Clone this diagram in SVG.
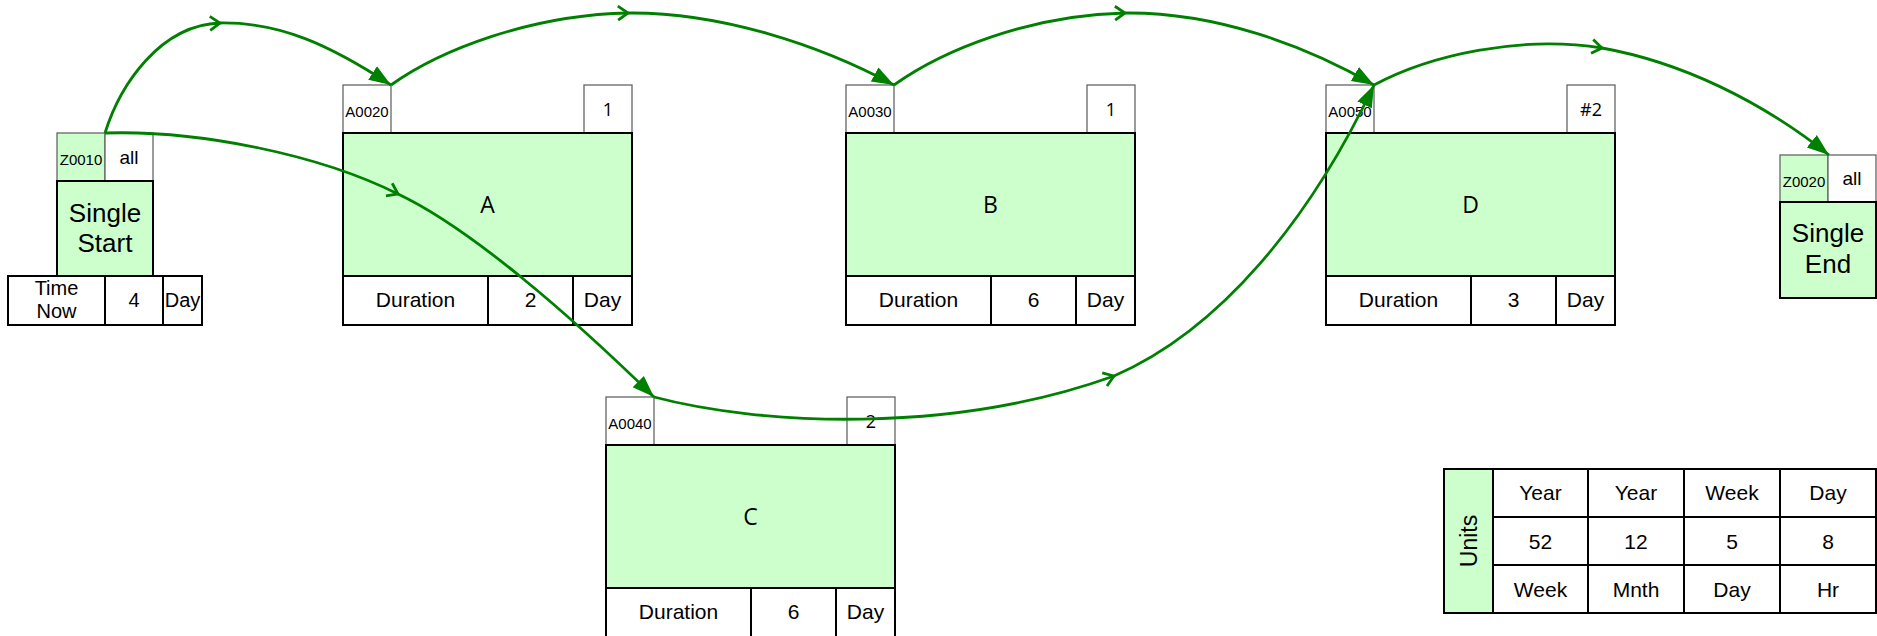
<svg xmlns="http://www.w3.org/2000/svg" width="1877" height="636" viewBox="0 0 1877 636">
<style>
.hb{fill:#fff;stroke:#666;stroke-width:1.3}
.hg{fill:#ccffcc;stroke:#666;stroke-width:1.3}
.main{fill:#ccffcc;stroke:#000;stroke-width:2}
.row{fill:#fff;stroke:#000;stroke-width:2}
.dv{stroke:#000;stroke-width:2}
.t{font-family:"Liberation Sans",Arial,sans-serif;fill:#000;text-anchor:middle}
.id{font-size:15px}
.lbl{font-size:21px}
.sm{font-size:20px}
.al{font-size:19px}
.nm{font-size:26px}
.o{font-family:"Open Sans",sans-serif;fill:#000;text-anchor:middle}
.big{font-size:23px}
.hd{font-size:18px}
.cn{fill:none;stroke:#008000;stroke-width:2.8}
</style>
<defs>
<marker id="tri" markerUnits="userSpaceOnUse" markerWidth="24" markerHeight="18" refX="22" refY="9" orient="auto">
<path d="M0,1 L22,9 L0,17 z" fill="#008000"/>
</marker>
<marker id="chev" markerUnits="userSpaceOnUse" markerWidth="16" markerHeight="18" refX="12" refY="9" orient="auto">
<path d="M2,2 L12,9 L2,16" fill="none" stroke="#008000" stroke-width="2.8"/>
</marker>
</defs>
<rect x="0" y="0" width="1877" height="636" fill="#fff"/>

<g id="node-Z0010">
<rect class="hg" x="57" y="133" width="48" height="48"/>
<rect class="hb" x="105" y="133" width="48" height="48"/>
<rect class="main" x="57" y="181" width="96" height="95"/>
<rect class="row" x="8" y="276" width="194" height="49"/>
<line class="dv" x1="105" y1="276" x2="105" y2="325"/>
<line class="dv" x1="163" y1="276" x2="163" y2="325"/>
<text class="t id" x="81" y="165">Z0010</text>
<text class="t al" x="129" y="164">all</text>
<text class="t nm" x="105" y="222">Single</text>
<text class="t nm" x="105" y="252">Start</text>
<text class="t sm" x="56.5" y="295">Time</text>
<text class="t sm" x="56.5" y="318">Now</text>
<text class="t sm" x="134" y="307">4</text>
<text class="t sm" x="182.5" y="307">Day</text>
</g>

<g id="node-A0020" transform="translate(343,85)">
<rect class="hb" x="0" y="0" width="48" height="48"/>
<rect class="hb" x="241" y="0" width="48" height="48"/>
<rect class="main" x="0" y="48" width="289" height="143"/>
<rect class="row" x="0" y="191" width="289" height="49"/>
<line class="dv" x1="145" y1="191" x2="145" y2="240"/>
<line class="dv" x1="230" y1="191" x2="230" y2="240"/>
<text class="t id" x="24" y="32">A0020</text>
<text class="o hd" x="265" y="31">1</text>
<text class="o big" x="144.5" y="128">A</text>
<text class="t lbl" x="72.5" y="222">Duration</text>
<text class="t lbl" x="187.5" y="222">2</text>
<text class="t lbl" x="259.5" y="222">Day</text>
</g>

<g id="node-A0030" transform="translate(846,85)">
<rect class="hb" x="0" y="0" width="48" height="48"/>
<rect class="hb" x="241" y="0" width="48" height="48"/>
<rect class="main" x="0" y="48" width="289" height="143"/>
<rect class="row" x="0" y="191" width="289" height="49"/>
<line class="dv" x1="145" y1="191" x2="145" y2="240"/>
<line class="dv" x1="230" y1="191" x2="230" y2="240"/>
<text class="t id" x="24" y="32">A0030</text>
<text class="o hd" x="265" y="31">1</text>
<text class="o big" x="144.5" y="128">B</text>
<text class="t lbl" x="72.5" y="222">Duration</text>
<text class="t lbl" x="187.5" y="222">6</text>
<text class="t lbl" x="259.5" y="222">Day</text>
</g>

<g id="node-A0040" transform="translate(606,397)">
<rect class="hb" x="0" y="0" width="48" height="48"/>
<rect class="hb" x="241" y="0" width="48" height="48"/>
<rect class="main" x="0" y="48" width="289" height="143"/>
<rect class="row" x="0" y="191" width="289" height="49"/>
<line class="dv" x1="145" y1="191" x2="145" y2="240"/>
<line class="dv" x1="230" y1="191" x2="230" y2="240"/>
<text class="t id" x="24" y="32">A0040</text>
<text class="o hd" x="265" y="31">2</text>
<text class="o big" x="144.5" y="128">C</text>
<text class="t lbl" x="72.5" y="222">Duration</text>
<text class="t lbl" x="187.5" y="222">6</text>
<text class="t lbl" x="259.5" y="222">Day</text>
</g>

<g id="node-A0050" transform="translate(1326,85)">
<rect class="hb" x="0" y="0" width="48" height="48"/>
<rect class="hb" x="241" y="0" width="48" height="48"/>
<rect class="main" x="0" y="48" width="289" height="143"/>
<rect class="row" x="0" y="191" width="289" height="49"/>
<line class="dv" x1="145" y1="191" x2="145" y2="240"/>
<line class="dv" x1="230" y1="191" x2="230" y2="240"/>
<text class="t id" x="24" y="32">A0050</text>
<text class="o hd" x="265" y="31">#2</text>
<text class="o big" x="144.5" y="128">D</text>
<text class="t lbl" x="72.5" y="222">Duration</text>
<text class="t lbl" x="187.5" y="222">3</text>
<text class="t lbl" x="259.5" y="222">Day</text>
</g>

<g id="node-Z0020">
<rect class="hg" x="1780" y="155" width="48" height="47"/>
<rect class="hb" x="1828" y="155" width="48" height="47"/>
<rect class="main" x="1780" y="202" width="96" height="96"/>
<text class="t id" x="1804" y="187">Z0020</text>
<text class="t al" x="1852" y="185">all</text>
<text class="t nm" x="1828" y="242">Single</text>
<text class="t nm" x="1828" y="273">End</text>
</g>

<g id="units-table">
<rect x="1444" y="469" width="49" height="144" fill="#ccffcc" stroke="#000" stroke-width="2"/>
<rect x="1493" y="469" width="383" height="144" fill="#fff" stroke="#000" stroke-width="2"/>
<line class="dv" x1="1588" y1="469" x2="1588" y2="613"/>
<line class="dv" x1="1684" y1="469" x2="1684" y2="613"/>
<line class="dv" x1="1780" y1="469" x2="1780" y2="613"/>
<line class="dv" x1="1493" y1="517" x2="1876" y2="517"/>
<line class="dv" x1="1493" y1="565" x2="1876" y2="565"/>
<text class="t" font-size="23" transform="translate(1477,541) rotate(-90)">Units</text>
<text class="t lbl" x="1540.5" y="500">Year</text>
<text class="t lbl" x="1636" y="500">Year</text>
<text class="t lbl" x="1732" y="500">Week</text>
<text class="t lbl" x="1828" y="500">Day</text>
<text class="t lbl" x="1540.5" y="548.5">52</text>
<text class="t lbl" x="1636" y="548.5">12</text>
<text class="t lbl" x="1732" y="548.5">5</text>
<text class="t lbl" x="1828" y="548.5">8</text>
<text class="t lbl" x="1540.5" y="596.5">Week</text>
<text class="t lbl" x="1636" y="596.5">Mnth</text>
<text class="t lbl" x="1732" y="596.5">Day</text>
<text class="t lbl" x="1828" y="596.5">Hr</text>
</g>

<g id="connectors">
<path class="cn" d="M105,133 C120,85 160,25 220,23" marker-end="url(#chev)"/>
<path class="cn" d="M220,23 C280,22 330,45 391,85" marker-end="url(#tri)"/>
<path class="cn" d="M105,133 C200,130 320,155 398,194" marker-end="url(#chev)"/>
<path class="cn" d="M398,194 C470,228 570,315 654,397" marker-end="url(#tri)"/>
<path class="cn" d="M391,85 C440,50 530,15 628,13" marker-end="url(#chev)"/>
<path class="cn" d="M628,13 C720,12 820,45 894,85" marker-end="url(#tri)"/>
<path class="cn" d="M894,85 C943,50 1030,15 1125,13" marker-end="url(#chev)"/>
<path class="cn" d="M1125,13 C1215,12 1305,45 1374,85" marker-end="url(#tri)"/>
<path class="cn" d="M654,397 C760,425 950,435 1114,376" marker-end="url(#chev)"/>
<path class="cn" d="M1114,376 C1220,330 1310,220 1374,85" marker-end="url(#tri)"/>
<path class="cn" d="M1374,85 C1430,55 1520,35 1602,48" marker-end="url(#chev)"/>
<path class="cn" d="M1602,48 C1680,62 1760,100 1829,155" marker-end="url(#tri)"/>
</g>
</svg>
